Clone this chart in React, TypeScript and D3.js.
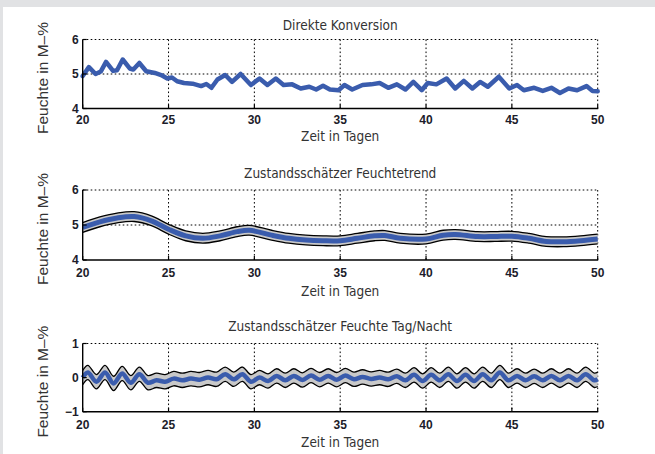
import React from "react";
import * as d3 from "d3";

// panel 1: direct conversion (days, moisture M-%)
const rawDays = [20, 20.36, 20.75, 21.05, 21.36, 21.77, 22.0, 22.33, 22.74, 22.95, 23.3, 23.7, 24.2, 24.57, 24.93,
  25.2, 25.5, 25.9, 26.4, 26.9, 27.2, 27.5, 27.85, 28.3, 28.7, 29.2, 29.8, 30.3, 30.76, 31.25, 31.7, 32.2, 32.7,
  33.2, 33.6, 34.0, 34.4, 34.9, 35.25, 35.7, 36.3, 36.8, 37.3, 37.8, 38.3, 38.8, 39.26, 39.75, 40.1, 40.6, 41.2,
  41.7, 42.2, 42.7, 43.15, 43.6, 44.24, 44.85, 45.3, 45.7, 46.3, 46.8, 47.3, 47.8, 48.3, 48.8, 49.35, 49.7, 50];
const rawValues = [4.94, 5.2, 5.0, 5.07, 5.35, 5.09, 5.11, 5.42, 5.16, 5.13, 5.32, 5.08, 5.03, 4.97, 4.87,
  4.9, 4.79, 4.74, 4.72, 4.65, 4.71, 4.6, 4.84, 4.97, 4.77, 5.0, 4.68, 4.87, 4.68, 4.87, 4.68, 4.7, 4.58,
  4.63, 4.55, 4.66, 4.55, 4.53, 4.68, 4.55, 4.68, 4.7, 4.74, 4.6, 4.7, 4.55, 4.77, 4.53, 4.74, 4.7, 4.87,
  4.58, 4.8, 4.58, 4.77, 4.63, 4.92, 4.58, 4.68, 4.53, 4.6, 4.51, 4.6, 4.45, 4.58, 4.53, 4.65, 4.51, 4.5];

// panel 2: trend estimate
const trendDays = [20, 21, 22, 23, 24, 25, 26, 27, 28, 29, 29.7, 31, 32, 33, 34, 35, 36, 37, 37.6, 38.5, 40,
  41, 41.7, 43, 44, 45, 46, 47, 48, 49, 50];
const trendValues = [4.93, 5.09, 5.2, 5.24, 5.12, 4.88, 4.69, 4.62, 4.69, 4.81, 4.85, 4.71, 4.62, 4.57, 4.55,
  4.55, 4.62, 4.69, 4.7, 4.62, 4.6, 4.71, 4.73, 4.67, 4.67, 4.68, 4.62, 4.53, 4.52, 4.55, 4.6];
const trendBand = 0.14;

// panel 3: day/night component
const cycleDays = [20, 20.3, 20.8, 21.3, 21.8, 22.3, 22.8, 23.3, 23.8, 24.3, 24.8, 25.3, 25.8, 26.3, 26.8,
  27.3, 27.8, 28.3, 28.8, 29.3, 29.8, 30.3, 30.8, 31.3, 31.8, 32.3, 32.8, 33.3, 33.8, 34.3, 34.8, 35.3, 35.8,
  36.3, 36.8, 37.3, 37.8, 38.3, 38.8, 39.3, 39.8, 40.3, 40.8, 41.3, 41.8, 42.3, 42.8, 43.3, 43.8, 44.3, 44.8,
  45.3, 45.8, 46.3, 46.8, 47.3, 47.8, 48.3, 48.8, 49.3, 49.8, 50];
const cycleValues = [0.0, 0.15, -0.12, 0.15, -0.17, 0.12, -0.15, 0.1, -0.15, -0.08, -0.12, -0.03, -0.08, -0.03,
  -0.06, 0.0, -0.05, 0.1, -0.05, 0.1, -0.12, 0.0, -0.1, 0.05, -0.08, 0.05, -0.07, 0.06, -0.06, 0.05, -0.06, 0.06,
  -0.05, 0.02, -0.04, 0.0, -0.05, 0.04, -0.08, 0.08, -0.1, 0.08, -0.08, 0.1, -0.1, 0.08, -0.1, 0.1, -0.08, 0.15,
  -0.08, 0.05, -0.08, 0.04, -0.08, 0.05, -0.08, 0.05, -0.08, 0.1, -0.08, -0.05];
const cycleBand = 0.21;

const xTicks = [20, 25, 30, 35, 40, 45, 50];
const titles = ["Direkte Konversion", "Zustandsschätzer Feuchtetrend", "Zustandsschätzer Feuchte Tag/Nacht"];
const yLabel = "Feuchte in M–%";
const xLabel = "Zeit in Tagen";

const BLUE = "#3a5cad";
const left = 82.7, right = 597.7;

const panels = [
  { top: 39.5, bottom: 108.5, titleY: 25, tickY: 120, labelY: 136.5, domain: [4, 6], yTicks: [4, 5, 6], tickText: ["4", "5", "6"] },
  { top: 190, bottom: 260, titleY: 173.3, tickY: 272.5, labelY: 291.5, domain: [4, 6], yTicks: [4, 5, 6], tickText: ["4", "5", "6"] },
  { top: 343.5, bottom: 411.7, titleY: 326.7, tickY: 424.5, labelY: 442.5, domain: [-1, 1], yTicks: [-1, 0, 1], tickText: ["−1", "0", "1"] },
];

const x = d3.scaleLinear().domain([20, 50]).range([left, right]);

function Panel({ i, children }: { i: number; children: (y: d3.ScaleLinear<number, number>) => React.ReactNode }) {
  const p = panels[i];
  const y = d3.scaleLinear().domain(p.domain).range([p.bottom, p.top]);
  const grid = "1.6,2.4";
  return (
    <g>
      <text x={(left + right) / 2} y={p.titleY} dy="0.35em" textAnchor="middle"
        fontFamily="'Liberation Sans Narrow', 'DejaVu Sans Condensed', sans-serif" fontSize={13.5} fill="#333">{titles[i]}</text>
      {/* grid */}
      {xTicks.slice(1).map((t) => (
        <line key={"gx" + t} x1={x(t)} x2={x(t)} y1={p.top} y2={p.bottom} stroke="#000" strokeWidth={1} strokeDasharray={grid} />
      ))}
      {p.yTicks.slice(1).map((t) => (
        <line key={"gy" + t} x1={left} x2={right} y1={y(t)} y2={y(t)} stroke="#000" strokeWidth={1} strokeDasharray={grid} />
      ))}
      {children(y)}
      {/* axes */}
      <line x1={left} x2={left} y1={p.top} y2={p.bottom} stroke="#000" strokeWidth={1.4} />
      <line x1={left} x2={right + 0.5} y1={p.bottom} y2={p.bottom} stroke="#000" strokeWidth={1.4} />
      {xTicks.map((t) => (
        <g key={"tx" + t}>
          <line x1={x(t)} x2={x(t)} y1={p.bottom} y2={p.bottom - 4} stroke="#000" strokeWidth={1.2} />
          <text x={x(t)} y={p.tickY} dy="0.35em" textAnchor="middle" fontFamily="'Liberation Sans', Arial, sans-serif"
            fontWeight="bold" fontSize={12} fill="#1c1c2a">{t}</text>
        </g>
      ))}
      {p.yTicks.map((t, k) => (
        <g key={"ty" + t}>
          <line x1={left} x2={left + 4} y1={y(t)} y2={y(t)} stroke="#000" strokeWidth={1.2} />
          <text x={left - 4} y={y(t)} dy="0.35em" textAnchor="end" fontFamily="'Liberation Sans', Arial, sans-serif"
            fontWeight="bold" fontSize={12} fill="#1c1c2a">{p.tickText[k]}</text>
        </g>
      ))}
      <text transform={`translate(48, ${(p.top + p.bottom) / 2 + 4}) rotate(-90)`} textAnchor="middle"
        fontFamily="'Liberation Sans', Arial, sans-serif" fontSize={15.5} fill="#333">{yLabel}</text>
      <text x={(left + right) / 2} y={p.labelY} dy="0.35em" textAnchor="middle"
        fontFamily="'Liberation Sans Narrow', 'DejaVu Sans Condensed', sans-serif" fontSize={13.5} fill="#333">{xLabel}</text>
    </g>
  );
}

function Band({ days, values, band, y, width }: { days: number[]; values: number[]; band: number; y: d3.ScaleLinear<number, number>; width: number }) {
  const idx = days.map((_, k) => k);
  const curve = d3.curveCatmullRom;
  const area = d3.area<number>().x((k) => x(days[k])).y0((k) => y(values[k] - band)).y1((k) => y(values[k] + band)).curve(curve);
  const upper = d3.line<number>().x((k) => x(days[k])).y((k) => y(values[k] + band)).curve(curve);
  const lower = d3.line<number>().x((k) => x(days[k])).y((k) => y(values[k] - band)).curve(curve);
  const mid = d3.line<number>().x((k) => x(days[k])).y((k) => y(values[k])).curve(curve);
  return (
    <g>
      <path d={area(idx) || ""} fill="#c9c9c9" />
      <path d={upper(idx) || ""} fill="none" stroke="#000" strokeWidth={1.3} />
      <path d={lower(idx) || ""} fill="none" stroke="#000" strokeWidth={1.3} />
      <path d={mid(idx) || ""} fill="none" stroke={BLUE} strokeWidth={width} strokeLinejoin="round" />
    </g>
  );
}

export default function App() {
  const rawLine = d3.line<number>().x((k) => x(rawDays[k]));
  return (
    <svg width={655} height={454} style={{ position: "absolute", left: 0, top: 0, display: "block" }}>
      <rect x={0} y={0} width={655} height={454} fill="#e1e2e4" />
      <rect x={3} y={7} width={652} height={447} fill="#fff" />
      <Panel i={0}>
        {(y) => (
          <path d={rawLine.y((k) => y(rawValues[k]))(rawDays.map((_, k) => k)) || ""} fill="none" stroke={BLUE}
            strokeWidth={4.5} strokeLinejoin="round" strokeLinecap="round" />
        )}
      </Panel>
      <Panel i={1}>
        {(y) => <Band days={trendDays} values={trendValues} band={trendBand} y={y} width={5} />}
      </Panel>
      <Panel i={2}>
        {(y) => <Band days={cycleDays} values={cycleValues} band={cycleBand} y={y} width={4.5} />}
      </Panel>
    </svg>
  );
}
